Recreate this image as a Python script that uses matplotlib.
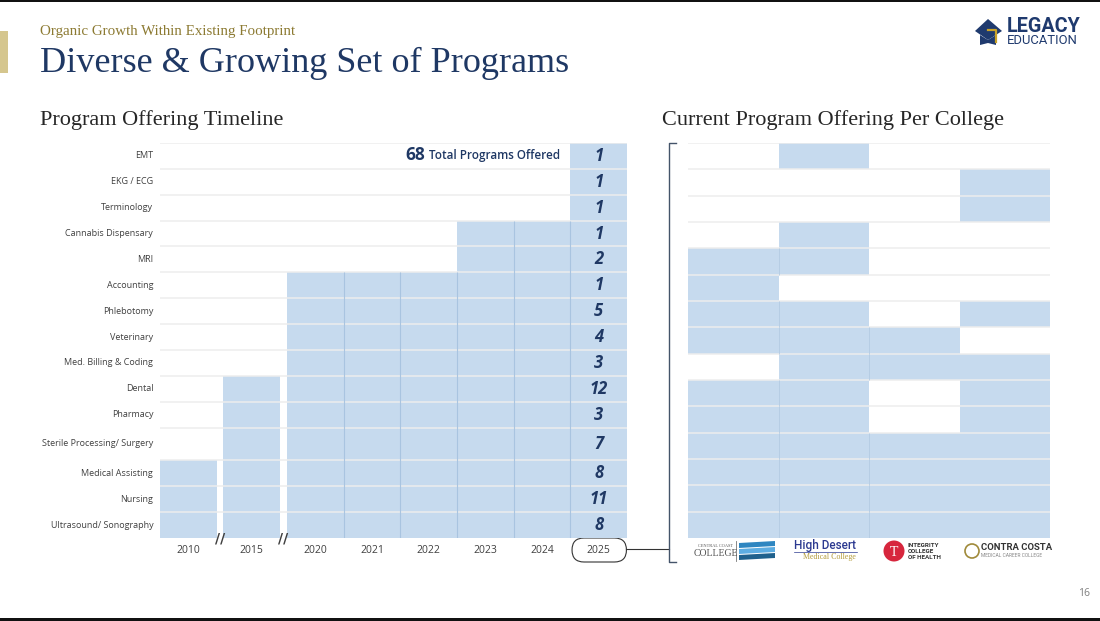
import matplotlib.pyplot as plt
from matplotlib.patches import Rectangle, Polygon, Circle, FancyBboxPatch
import numpy as np

# program offering timeline (left)
programs = ['EMT', 'EKG / ECG', 'Terminology', 'Cannabis Dispensary', 'MRI', 'Accounting',
            'Phlebotomy', 'Veterinary', 'Med. Billing & Coding', 'Dental', 'Pharmacy',
            'Sterile Processing/ Surgery', 'Medical Assisting', 'Nursing', 'Ultrasound/ Sonography']
years = [2010, 2015, 2020, 2021, 2022, 2023, 2024, 2025]
first_year = [2025, 2025, 2025, 2023, 2023, 2020, 2020, 2020, 2020, 2015, 2015, 2015, 2010, 2010, 2010]
programs_2025 = [1, 1, 1, 1, 2, 1, 5, 4, 3, 12, 3, 7, 8, 11, 8]

# current offering per college (right), one flag per program row
colleges = ['Central Coast College', 'High Desert Medical College',
            'Integrity College of Health', 'Contra Costa Medical Career College']
central_coast = [0, 0, 0, 0, 1, 1, 1, 1, 0, 1, 1, 1, 1, 1, 1]
high_desert   = [1, 0, 0, 1, 1, 0, 1, 1, 1, 1, 1, 1, 1, 1, 1]
integrity     = [0, 0, 0, 0, 0, 0, 0, 1, 1, 0, 0, 1, 1, 1, 1]
contra_costa  = [0, 1, 1, 0, 0, 0, 1, 0, 1, 1, 1, 1, 1, 1, 1]
offerings = [central_coast, high_desert, integrity, contra_costa]

FILL = '#C6DAEE'
NAVY = '#1F3864'
GREY = '#404040'
LINE = '#EDEDED'
SERIF = 'Liberation Serif'
SANS = 'Open Sans'

W, H = 1100, 621
fig = plt.figure(figsize=(W / 100, H / 100), dpi=100)
fig.patch.set_facecolor('white')


def box(l, t, r, b):
    return [l / W, 1 - b / H, (r - l) / W, (b - t) / H]


bg = fig.add_axes([0, 0, 1, 1])
bg.set_xlim(0, W)
bg.set_ylim(H, 0)
bg.axis('off')

# ---------- header ----------
bg.add_patch(Rectangle((0, 0), W, 2, color='#111111', lw=0))
bg.add_patch(Rectangle((0, 618), W, 3, color='#111111', lw=0))
bg.add_patch(Rectangle((0, 31), 8, 42, color='#D5C68E', lw=0))
bg.text(40, 31, 'Organic Growth Within Existing Footprint', fontsize=10.8, family=SERIF,
        color='#8C7A32', va='center')
bg.text(40, 63, 'Diverse & Growing Set of Programs', fontsize=26, family=SERIF,
        color=NAVY, va='center')
bg.text(40, 120, 'Program Offering Timeline', fontsize=16, family=SERIF, color='#262626', va='center')
bg.text(662, 120, 'Current Program Offering Per College', fontsize=16, family=SERIF,
        color='#262626', va='center')
bg.text(1090, 593, '16', fontsize=7.5, family=SANS, color='#7F7F7F', ha='right', va='center')

# legacy logo
bg.add_patch(Polygon([(975, 31), (988, 19), (1002, 31), (988, 40)], color='#1F3A6E', lw=0))
bg.add_patch(Polygon([(980, 35), (988, 40), (996, 35), (996, 45), (988, 43), (980, 45)],
                     color='#1F3A6E', lw=0))
bg.plot([988, 996, 996], [30, 30, 42], color='#C9A227', lw=1.6)
bg.text(1007, 26, 'LEGACY', fontsize=14.2, family='Roboto', weight='bold', color='#1F3A6E', va='center')
bg.text(1007, 40, 'EDUCATION', fontsize=9.4, family='Roboto', color='#1F3A6E', va='center')

# ---------- left: timeline ----------
n = len(programs)
row_h = np.array([1.27 if p.startswith('Sterile') else 1.0 for p in programs])
y_top = np.concatenate([[0], np.cumsum(row_h)[:-1]])
y_mid = y_top + row_h / 2
total_h = row_h.sum()

colw, gap = 1.0, 0.12
xs = []
x = 0.0
for j, yr in enumerate(years):
    if j > 0 and yr - years[j - 1] > 1:
        x += gap
    xs.append(x)
    x += colw
total_w = x

ax = fig.add_axes(box(160, 143, 627, 538))
ax.set_xlim(0, total_w)
ax.set_ylim(total_h, 0)
ax.axis('off')

for j, yr in enumerate(years):
    rows = [i for i in range(n) if first_year[i] <= yr]
    ax.barh(y_mid[rows], colw, left=xs[j], height=row_h[rows], color=FILL, lw=0, zorder=1)

ax.hlines(y_top, 0, total_w, color=LINE, lw=1.1, zorder=2)

# darker seams between touching year columns, break marks where years skip
for j in range(1, len(years)):
    if years[j] - years[j - 1] > 1:
        ax.text(xs[j] - gap / 2, total_h, '//', fontsize=10, weight='bold', color=GREY,
                ha='center', va='center', family='DejaVu Sans', clip_on=False, zorder=4)
    else:
        start = max(min(i for i in range(n) if first_year[i] <= years[j - 1]),
                    min(i for i in range(n) if first_year[i] <= years[j]))
        ax.vlines(xs[j], y_top[start], total_h, color='#A9C4E0', lw=0.8, zorder=3)

for i, p in enumerate(programs):
    ax.text(-0.12, y_mid[i], p, fontsize=6.5, family=SANS, color=GREY, ha='right', va='center')
    ax.text(xs[-1] + colw / 2, y_mid[i], str(programs_2025[i]), fontsize=12, family=SANS,
            weight='bold', style='italic', color=NAVY, ha='center', va='center', zorder=4)

for j, yr in enumerate(years):
    ax.text(xs[j] + colw / 2, total_h + 0.5, str(yr), fontsize=7.5, family=SANS, color=GREY,
            ha='center', va='center', clip_on=False)

tot = ax.text(xs[-1] - 0.18, y_mid[0], 'Total Programs Offered', fontsize=8.4, family=SANS,
              weight='semibold', color=NAVY, ha='right', va='center')
fig.canvas.draw()
bb = tot.get_window_extent().transformed(ax.transData.inverted())
ax.text(bb.x0 - 0.06, y_mid[0] - 0.04, str(sum(programs_2025)), fontsize=12.5, family=SANS,
        weight='bold', color=NAVY, ha='right', va='center')

# ellipse round 2025 and connector to the bracket
to_bg = ax.transData + bg.transData.inverted()
ex0, ey0 = to_bg.transform((xs[-1] + 0.03, total_h))
ex1, _ = to_bg.transform((xs[-1] + colw - 0.01, total_h))
bg.add_patch(FancyBboxPatch((ex0, ey0), ex1 - ex0, 24, boxstyle='round,pad=0,rounding_size=12',
                            fc='none', ec='#333333', lw=0.8))
bg.plot([ex1, 669], [ey0 + 11, ey0 + 11], color='#333333', lw=0.8)
bg.plot([676, 669, 669, 676], [143, 143, 562, 562], color='#44546A', lw=1.0)

# ---------- right: per college ----------
rx = fig.add_axes(box(688, 143, 1050, 538))
rx.set_xlim(0, len(colleges))
rx.set_ylim(n, 0)
rx.axis('off')
for c, flags in enumerate(offerings):
    rows = np.array([i for i in range(n) if flags[i]])
    rx.barh(rows + 0.5, 1, left=c, height=1, color=FILL, lw=0, zorder=1)
rx.hlines(np.arange(n), 0, len(colleges), color=LINE, lw=1.1, zorder=2)
for c in (1, 2):
    for i in range(n):
        if offerings[c - 1][i] and offerings[c][i]:
            rx.vlines(c, i, i + 1, color='#B3CBE3', lw=0.6, zorder=3)

# college logos as text marks
bg.text(716, 546, 'CENTRAL COAST', fontsize=3.2, family=SERIF, color='#555555', ha='center', va='center')
bg.text(716, 554, 'COLLEGE', fontsize=7, family=SERIF, color='#555555', ha='center', va='center')
bg.plot([736, 736], [541, 561], color='#777777', lw=0.6)
for k, col in enumerate(['#2E86C1', '#5DADE2', '#1F618D']):
    bg.add_patch(Polygon([(739, 543 + 6 * k), (775, 541 + 6 * k), (775, 546 + 6 * k), (739, 548 + 6 * k)],
                         color=col, lw=0))
bg.text(825, 546, 'High Desert', fontsize=8.5, family='Roboto', weight='medium', color='#2B3990',
        ha='center', va='center')
bg.plot([794, 857], [551.5, 551.5], color='#2B3990', lw=0.5)
bg.text(829, 557, 'Medical College', fontsize=5.8, family=SERIF, color='#B39B3A', ha='center', va='center')
bg.add_patch(Circle((894, 551), 10.5, color='#D7263D', lw=0))
bg.text(894, 552, 'T', fontsize=10, family=SERIF, color='white', ha='center', va='center')
bg.text(908, 551.5, 'INTEGRITY\nCOLLEGE\nOF HEALTH', fontsize=4.5, family='Roboto', weight='bold',
        color='#333333', va='center', linespacing=1.2)
bg.add_patch(Circle((972, 551), 7, fc='none', ec='#A08A3A', lw=1.2))
bg.text(981, 548, 'CONTRA COSTA', fontsize=6.8, family='Roboto', weight='bold', color='#333333', va='center')
bg.text(981, 555.5, 'MEDICAL CAREER COLLEGE', fontsize=3.5, family='Roboto', color='#888888', va='center')

fig.savefig('out.png', dpi=100)
